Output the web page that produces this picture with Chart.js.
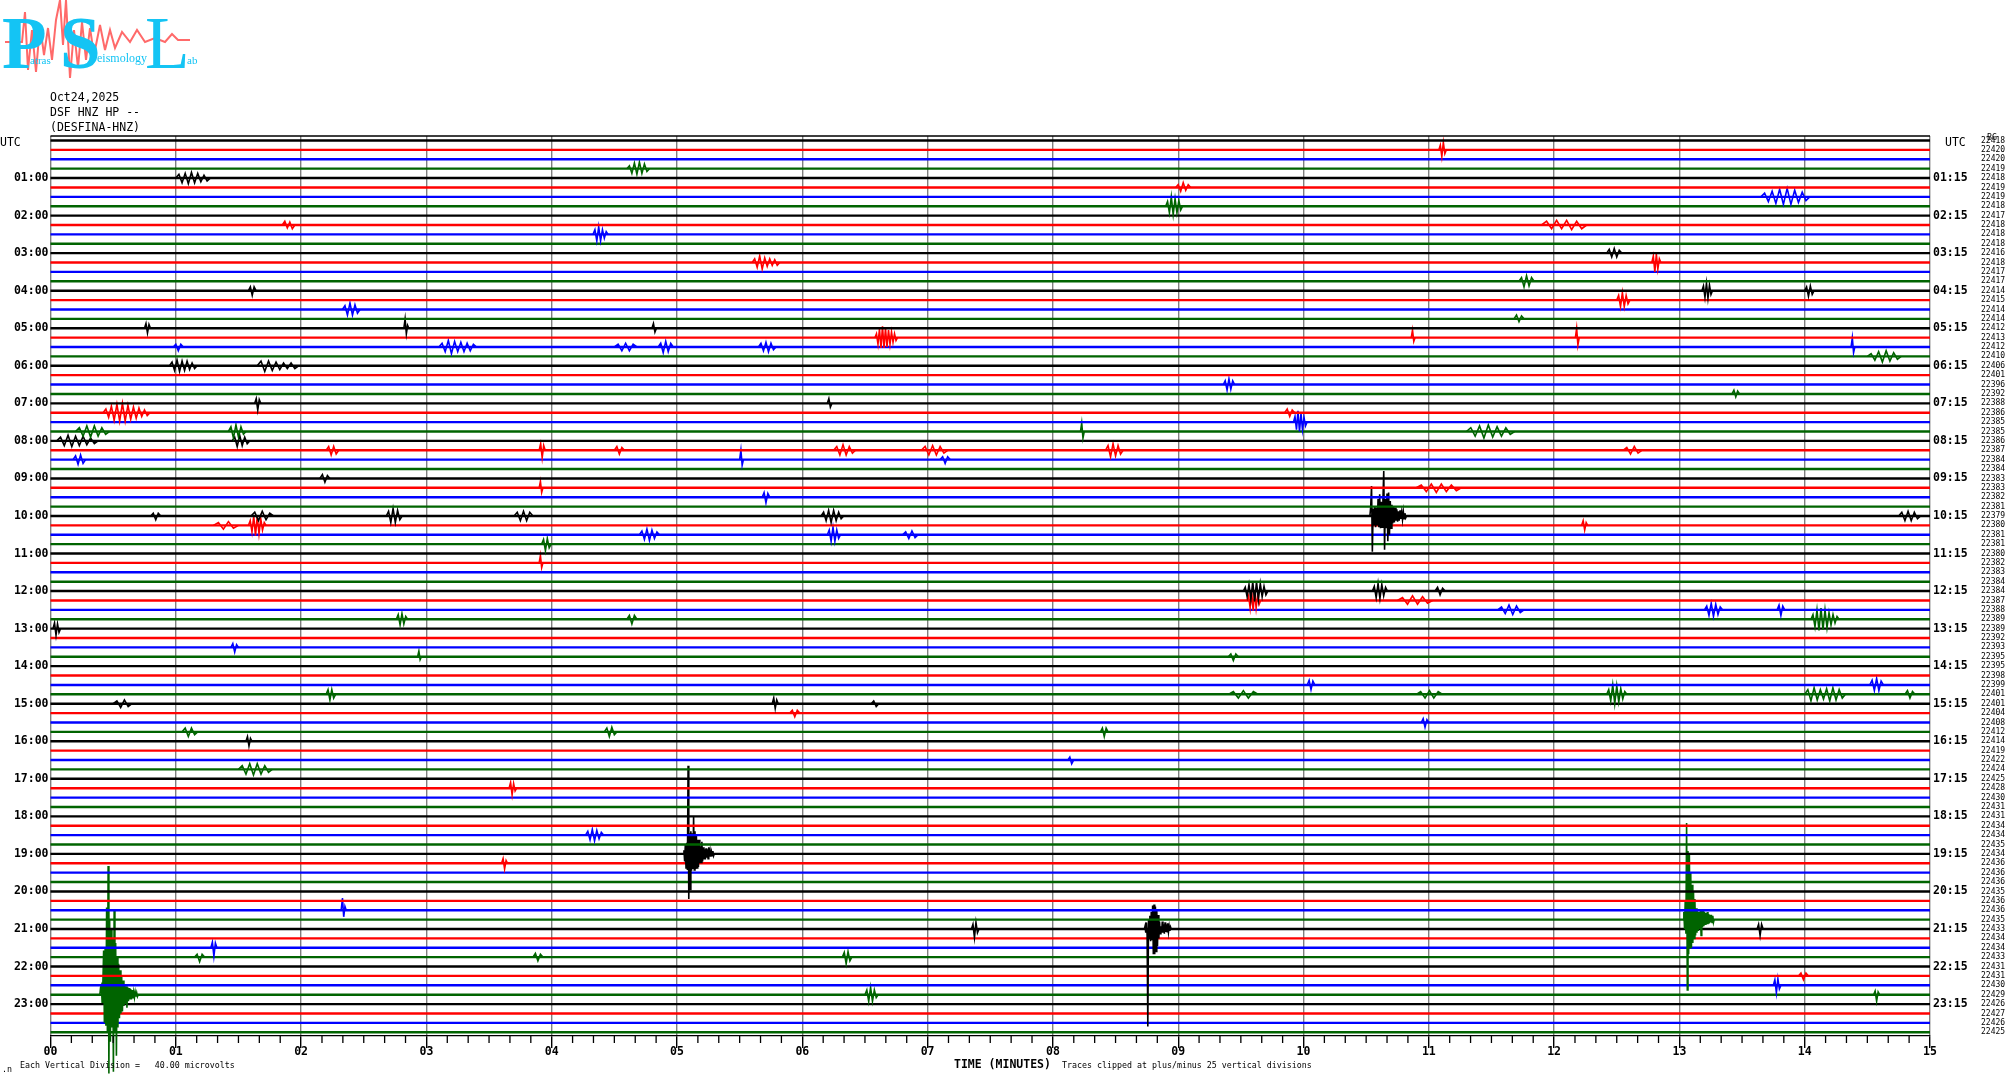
<!DOCTYPE html>
<html>
<head>
<meta charset="utf-8">
<title>DSF HNZ helicorder</title>
<script src="https://cdn.jsdelivr.net/npm/chart.js@4/dist/chart.umd.min.js"></script>
<style>
  html, body { margin: 0; padding: 0; background: #fff; }
  #wrap { position: relative; width: 2010px; height: 1080px; overflow: hidden; }
  #graf { position: absolute; left: 0; top: 0; }
  .t { position: absolute; font-family: "DejaVu Sans Mono", monospace; color: #000; white-space: pre; line-height: 1; }
  .b { font-weight: bold; font-size: 11.5px; }
  .s { font-size: 8.3px; }
  .logo { position: absolute; font-family: "Liberation Serif", serif; color: #14c4f4; line-height: 1; }
</style>
</head>
<body>
<div id="wrap">
  <canvas id="graf" width="2010" height="1080"></canvas>

  <svg style="position:absolute;left:0;top:0" width="205" height="82">
    <polyline fill="none" stroke="#ff6a6a" stroke-width="2"
      points="5,42 22,42 25,12 28,70 32,30 36,72 40,25 44,55 48,28 52,60 56,20 60,0 63,45 66,0 70,78 74,30 78,68 82,22 86,60 90,28 94,55 100,25 105,50 110,30 115,48 122,32 130,42 137,30 145,42 155,38 165,42 172,34 178,40 190,40"/>
  </svg>
  <span class="logo" style="left:2px;top:7px;font-size:73px;font-weight:bold">P</span>
  <span class="logo" style="left:60px;top:7px;font-size:73px;font-weight:bold">S</span>
  <span class="logo" style="left:145px;top:7px;font-size:73px">L</span>
  <span class="logo" style="left:30px;top:55px;font-size:11px">atras</span>
  <span class="logo" style="left:97px;top:52px;font-size:12px">eismology</span>
  <span class="logo" style="left:187px;top:55px;font-size:11px">ab</span>

  <span class="t b" style="left:50px;top:92px;font-weight:normal">Oct24,2025</span>
  <span class="t b" style="left:50px;top:107px;font-weight:normal">DSF HNZ HP --</span>
  <span class="t b" style="left:50px;top:122px;font-weight:normal">(DESFINA-HNZ)</span>
  <span class="t b" style="left:0;top:137px;font-weight:normal">UTC</span>
  <span class="t b" style="left:1945px;top:137px;font-weight:normal">UTC</span>
  <span class="t s" style="left:1987px;top:133px">BG</span>
  <span class="t b" style="left:954px;top:1059px">TIME (MINUTES)</span>
  <span class="t s" style="left:1062px;top:1061px">Traces clipped at plus/minus 25 vertical divisions</span>
  <span class="t s" style="left:20px;top:1061px">Each Vertical Division =   40.00 microvolts</span>
  <span class="t s" style="left:2px;top:1065px">.n</span>
</div>

<script>
// helicorder DSF HNZ - 24 Oct 2025
const colores = ['#000000', '#ff0000', '#0000ff', '#006400'];
const minutos = ['00','01','02','03','04','05','06','07','08','09','10','11','12','13','14','15'];
const horasIzq = ['01:00','02:00','03:00','04:00','05:00','06:00','07:00','08:00','09:00','10:00','11:00','12:00','13:00','14:00','15:00','16:00','17:00','18:00','19:00','20:00','21:00','22:00','23:00'];
const horasDer = ['01:15','02:15','03:15','04:15','05:15','06:15','07:15','08:15','09:15','10:15','11:15','12:15','13:15','14:15','15:15','16:15','17:15','18:15','19:15','20:15','21:15','22:15','23:15'];

// cuenta media de cada traza (columna derecha)
const cuentas = [22418,22420,22420,22419,22418,22419,22419,22418,22417,22418,22418,22418,22416,22418,22417,22417,
  22414,22415,22414,22414,22412,22413,22412,22410,22406,22401,22396,22392,22388,22386,22385,22385,
  22386,22387,22384,22384,22383,22383,22382,22381,22379,22380,22381,22381,22380,22382,22383,22384,
  22384,22387,22388,22389,22389,22392,22393,22395,22395,22398,22399,22401,22401,22404,22408,22412,
  22414,22419,22422,22424,22425,22428,22430,22431,22431,22434,22434,22435,22434,22436,22436,22436,
  22435,22436,22436,22435,22433,22434,22434,22433,22431,22431,22430,22429,22426,22427,22426,22425];

// sismos grandes, deflexion en separaciones de traza (+ arriba)
const sismo0045 = [.8,1,-.8,1.2,4.7,-3,5,-3.3,9.3,-4,13.7,-8.4,8,-5,7,-3.5,6,-8.2,9,-4,5.5,-6.5,4,-3.5,3.3,-2.5,2.6,-2,2,-1.8,1.5,-1.2,1,-1,.9,-1.4,.8,-.7,.7,-.5,.6,-.5,.5,-.4,.3,-.3,.3,-.2,.2,-.2];
const sismo0510 = [.4,-.8,1,-1.5,1.2,-1.7,9.4,-4.8,2.2,-3.8,2.4,-1.8,2.2,-1.6,4,-1.7,2.4,-1.6,2,-1.5,1.5,-1.4,1.5,-1,.8,-.9,1.3,-.8,.7,-.6,.5,-.6,.6,-.4,.5,-.5,.7,-.3,.3,-.3,.2,-.2,.3,-.2];
const sismo0876 = [.3,-.4,.7,-.7,-10.4,1,-1,1.4,-1.3,1.8,-1.2,2.5,-2.7,2.6,-2.7,2.4,-2.4,2,-1.8,1.5,-1,.8,-.5,.3,-.4,.8,-.4,.5,-.5,.7,-.3,.5,-.3,.6,-.3,.3,-.2,.2];
const sismo1065 = [1,3.2,-3.8,.8,-1,1,-1.2,.9,-1,1.8,-1.2,2.3,-1.3,1.5,-1.2,1.7,4.8,-3.6,1.8,-1.3,2.4,-2.7,2.5,-2,1.6,-1.3,1.2,-.8,1,-.7,.9,-.5,.7,-.6,.5,-.5,.6,-.3,.4,-.4,.5,-.3,.3,-.2];
const sismo1306 = [.8,-1,2,-1.5,10.3,-7.5,7.3,-3.7,7,-3,5,-3,3.7,-2.5,3,-2,2.2,-1.7,1.2,-1.4,.9,-1.2,.8,-1,1.1,-1.7,1,-.8,.9,-.7,.8,-.5,.7,-.5,.8,-.5,.6,-.4,.5,-.3,.5,-.3,.4,-.3];

// [traza, minuto inicial, paso en minutos, deflexiones]
const eventos = [
  [91,.394,.006,sismo0045],[76,5.05,.0055,sismo0510],[84,8.73,.0055,sismo0876],[40,10.53,.0065,sismo1065],[83,13.03,.0055,sismo1306],
  [1,11.08,.012,[.5,-.7,.8,-.4]],
  [3,4.6,.02,[.3,-.5,.6,-.6,.7,-.5,.5,-.3]],
  [4,1.0,.025,[.4,-.5,.5,-.6,.6,-.5,.5,-.4,.3,-.3]],
  [5,8.98,.02,[.3,-.4,.5,-.3,.3]],
  [6,13.65,.03,[.4,-.5,.6,-.7,.8,-.8,.9,-.8,.7,-.6,.5,-.4]],
  [7,8.9,.015,[.5,-.7,1,-.9,.8,-.7,.6,-.4]],
  [9,11.9,.04,[.4,-.4,.5,-.4,.5,-.5,.4,-.4]],
  [9,1.85,.02,[.4,-.3,.3,-.4]],
  [10,4.33,.015,[.5,-.7,.8,-.7,.5,-.4,.3]],
  [12,12.42,.02,[.4,-.4,.5,-.4,.3]],
  [13,5.6,.02,[.4,-.5,.7,-.7,.5,-.4,.4,-.3,.3,-.3]],
  [13,12.78,.012,[.7,-1,.9,-.7,.4]],
  [15,11.72,.02,[.4,-.6,.6,-.5,.4]],
  [16,13.18,.012,[.5,-.7,.8,-.8,.6,-.4]],
  [16,14.0,.015,[.4,-.6,.5,-.4]],
  [16,1.58,.015,[.4,-.5,.4]],
  [17,12.5,.015,[.5,-.7,.8,-.7,.5,-.4]],
  [18,2.33,.02,[.4,-.6,.7,-.6,.5,-.4]],
  [19,11.68,.02,[.4,-.3,.3]],
  [20,.75,.012,[.5,-.5,.4]],
  [20,2.82,.01,[1,-.6,.3]],
  [20,4.8,.012,[.5,-.4]],
  [21,6.58,.012,[.4,-.7,.9,-1.1,1.2,-1.1,1,-1,.8,-.7,.6,-.5,.4,-.3]],
  [21,10.86,.01,[.8,-.4]],
  [21,12.17,.01,[1,-.8]],
  [22,3.1,.025,[.4,-.5,.7,-.7,.6,-.5,.5,-.5,.4,-.4,.3]],
  [22,4.5,.03,[.3,-.4,.4,-.4,.3]],
  [22,4.85,.02,[.4,-.6,.6,-.5,.4]],
  [22,5.65,.02,[.4,-.4,.5,-.5,.4,-.3]],
  [22,.98,.02,[.3,-.4,.3]],
  [22,14.37,.01,[1,-.6]],
  [23,14.5,.03,[.3,-.4,.5,-.6,.6,-.5,.4,-.3]],
  [24,.95,.02,[.4,-.5,.6,-.6,.5,-.5,.5,-.4,.3,-.3]],
  [24,1.65,.03,[.5,-.6,.5,-.5,.4,-.4,.3,-.3,.3,-.3]],
  [26,9.36,.015,[.4,-.6,.6,-.5,.4]],
  [27,13.42,.015,[.4,-.3,.3]],
  [28,1.63,.012,[.5,-.7,.4]],
  [28,6.2,.012,[.5,-.4]],
  [29,.42,.022,[.4,-.5,.7,-.8,.9,-.9,1,-.9,.8,-.7,.6,-.6,.5,-.4,.3,-.3]],
  [29,9.85,.02,[.4,-.4,.3]],
  [30,9.92,.012,[.6,-.8,1.2,-1,.9,-.8,.5,-.4]],
  [31,.2,.03,[.4,-.5,.6,-.6,.6,-.5,.4,-.3]],
  [31,1.42,.02,[.5,-.7,.7,-.6,.5,-.3]],
  [31,11.3,.035,[.4,-.5,.6,-.7,.7,-.6,.5,-.5,.4,-.3]],
  [31,8.22,.01,[.9,-.7]],
  [32,.05,.03,[.4,-.5,.6,-.6,.5,-.5,.5,-.4,.3,-.3]],
  [32,1.45,.02,[.4,-.6,.6,-.5,.4,-.3]],
  [33,2.2,.02,[.4,-.5,.4,-.4]],
  [33,3.9,.012,[.7,-.8,.5]],
  [33,4.5,.02,[.4,-.4,.3]],
  [33,6.25,.025,[.4,-.5,.6,-.5,.4,-.3]],
  [33,6.95,.03,[.4,-.5,.5,-.5,.4,-.3]],
  [33,8.42,.02,[.5,-.7,.7,-.6,.5,-.4]],
  [33,12.55,.03,[.3,-.4,.4,-.3]],
  [34,.18,.02,[.4,-.5,.5,-.4]],
  [34,5.5,.01,[1,-.6]],
  [34,7.1,.02,[.3,-.4,.3]],
  [36,2.15,.02,[.4,-.4,.3]],
  [37,3.9,.01,[.7,-.5]],
  [37,10.9,.04,[.3,-.4,.4,-.5,.4,-.4,.3,-.3]],
  [38,5.68,.015,[.5,-.6,.4]],
  [40,.8,.02,[.3,-.4,.3]],
  [40,1.6,.03,[.4,-.5,.5,-.4,.3]],
  [40,2.68,.018,[.5,-.7,.8,-.7,.6,-.4]],
  [40,3.7,.025,[.4,-.5,.5,-.5,.4]],
  [40,6.15,.02,[.4,-.5,.6,-.7,.6,-.5,.4,-.3]],
  [40,14.75,.025,[.4,-.5,.5,-.5,.4,-.3]],
  [41,1.3,.04,[.3,-.4,.4,-.3]],
  [41,1.58,.014,[.5,-.7,1,-1.1,1,-.9,.7,-.5,.3]],
  [41,12.22,.012,[.5,-.5,.3]],
  [42,4.7,.02,[.4,-.5,.6,-.6,.5,-.4,.3]],
  [42,6.2,.015,[.5,-.7,.8,-.7,.5,-.4]],
  [42,6.8,.025,[.3,-.4,.4,-.3]],
  [43,3.92,.015,[.5,-.7,.6,-.4]],
  [45,3.9,.01,[.8,-.5]],
  [48,9.52,.015,[.4,-.6,.7,-.9,1,-1.1,1,-.9,.8,-.6,.5,-.4]],
  [48,10.55,.015,[.5,-.7,.8,-.8,.7,-.5,.4]],
  [48,11.05,.02,[.4,-.4,.3]],
  [49,9.55,.012,[.5,-.8,1,-1.1,1,-.8,.6,-.4]],
  [49,10.75,.04,[.3,-.4,.5,-.4,.4,-.3]],
  [50,11.55,.03,[.3,-.4,.5,-.5,.4,-.3]],
  [50,13.2,.018,[.4,-.6,.7,-.7,.6,-.5,.3]],
  [50,13.78,.015,[.5,-.6,.4]],
  [51,2.76,.015,[.5,-.6,.6,-.5,.3]],
  [51,4.6,.02,[.4,-.5,.4]],
  [51,14.05,.016,[.5,-.8,1,-1.2,1.2,-1.1,1,-.9,.7,-.6,.5,-.4,.3]],
  [52,.02,.012,[.6,-.7,.5,-.4]],
  [54,1.44,.015,[.4,-.5,.3]],
  [55,9.4,.02,[.3,-.4,.3]],
  [55,2.93,.01,[.6,-.3]],
  [58,10.03,.015,[.5,-.5,.4]],
  [58,14.52,.018,[.5,-.6,.7,-.6,.4]],
  [59,2.2,.015,[.5,-.6,.5,-.4]],
  [59,9.4,.04,[.3,-.4,.4,-.4,.3]],
  [59,10.9,.035,[.3,-.4,.4,-.4,.3]],
  [59,12.42,.016,[.5,-.7,1,-1,.9,-.8,.6,-.5,.3]],
  [59,14.0,.025,[.5,-.7,.7,-.6,.5,-.5,.6,-.7,.7,-.6,.5,-.4]],
  [59,14.8,.02,[.4,-.4,.3]],
  [60,.5,.03,[.3,-.4,.4,-.3]],
  [60,5.76,.012,[.6,-.5,.4]],
  [60,6.55,.02,[.3,-.3]],
  [61,5.9,.02,[.3,-.4,.3]],
  [62,10.94,.015,[.4,-.5,.3]],
  [63,1.05,.025,[.4,-.5,.4,-.3]],
  [63,4.42,.02,[.4,-.5,.5,-.3]],
  [63,8.38,.015,[.4,-.5,.4]],
  [64,1.56,.012,[.5,-.5,.3]],
  [66,8.12,.015,[.3,-.4]],
  [67,1.5,.03,[.4,-.5,.6,-.6,.6,-.5,.4,-.3]],
  [69,3.66,.012,[.6,-.7,.5,-.3]],
  [74,4.27,.018,[.4,-.5,.6,-.6,.5,-.4,.3]],
  [77,3.6,.012,[.5,-.6,.3]],
  [82,2.32,.01,[1.3,-.7,.4]],
  [84,7.35,.012,[.5,-.9,.7,-.4]],
  [84,13.62,.012,[.5,-.7,.5]],
  [86,1.28,.012,[.6,-.9,.5]],
  [87,1.15,.02,[.3,-.5,.3]],
  [87,3.85,.02,[.4,-.4,.3]],
  [87,6.32,.015,[.5,-.7,.6,-.4]],
  [89,13.95,.02,[.3,-.4,.3]],
  [90,13.75,.012,[.6,-.8,.7,-.4]],
  [91,6.5,.015,[.5,-.7,.8,-.7,.5,-.3]],
  [91,14.55,.012,[.4,-.7,.3]]
];

const NUM_TRAZAS = cuentas.length;
const datasets = [];

for (let r = 0; r < NUM_TRAZAS; r++) {
  const color = colores[r % 4];

  // linea base de la traza
  datasets.push({
    data: [{ x: 0, y: r }, { x: 15, y: r }],
    borderColor: color, borderWidth: 2.4, pointRadius: 0, clip: false
  });

  const puntos = [];
  eventos.filter(e => e[0] === r).sort((a, b) => a[1] - b[1]).forEach(e => {
    const [, inicio, paso, vals] = e;
    puntos.push({ x: inicio, y: r });
    vals.forEach((v, i) => puntos.push({ x: inicio + (i + 1) * paso, y: r - v }));
    const fin = inicio + (vals.length + 1) * paso;
    puntos.push({ x: fin, y: r });
    puntos.push({ x: fin, y: NaN });
  });
  if (puntos.length) {
    datasets.push({
      data: puntos,
      borderColor: color, borderWidth: 1.6, pointRadius: 0, clip: false, spanGaps: false
    });
  }
}

const fuenteHora = { family: '"DejaVu Sans Mono", monospace', size: 11.5, weight: 'bold' };
const marcasHora = () => horasIzq.map((_, i) => ({ value: (i + 1) * 4 }));

// borde superior y marcas menores cada 10 segundos
const marcoPlugin = {
  id: 'marco',
  afterDraw(chart) {
    const { ctx, chartArea, scales } = chart;
    ctx.save();
    ctx.strokeStyle = '#000';
    ctx.lineWidth = 1.3;
    ctx.beginPath();
    ctx.moveTo(chartArea.left, chartArea.top);
    ctx.lineTo(chartArea.right, chartArea.top);
    for (let m = 0; m < 15; m++) {
      for (let k = 1; k < 6; k++) {
        const px = scales.x.getPixelForValue(m + k / 6);
        ctx.moveTo(px, chartArea.bottom);
        ctx.lineTo(px, chartArea.bottom + 7);
      }
    }
    ctx.stroke();
    ctx.restore();
  }
};

new Chart(document.getElementById('graf'), {
  type: 'line',
  data: { datasets },
  plugins: [marcoPlugin],
  options: {
    responsive: false,
    animation: false,
    parsing: false,
    devicePixelRatio: 1,
    layout: { padding: { top: 136 } },
    plugins: { legend: { display: false }, tooltip: { enabled: false } },
    scales: {
      x: {
        type: 'linear', min: 0, max: 15,
        afterFit: s => { s.height = 44; },
        border: { color: '#000', width: 1.3 },
        grid: { color: '#808080', lineWidth: 1.4, tickColor: '#000', tickLength: 12 },
        ticks: {
          stepSize: 1, padding: -3, maxRotation: 0, color: '#000', font: fuenteHora,
          callback: v => minutos[v]
        }
      },
      y: {
        type: 'linear', position: 'left', reverse: true, min: -0.48, max: 95.4,
        afterFit: s => { s.width = 50.5; },
        afterBuildTicks: s => { s.ticks = marcasHora(); },
        border: { display: false },
        grid: { display: false, drawTicks: false },
        ticks: {
          autoSkip: false, padding: 2, color: '#000', font: fuenteHora,
          callback: (v, i) => horasIzq[i]
        }
      },
      yHora: {
        type: 'linear', position: 'right', reverse: true, min: -0.48, max: 95.4,
        afterFit: s => { s.width = 50; },
        afterBuildTicks: s => { s.ticks = marcasHora(); },
        border: { display: false },
        grid: { display: false, drawTicks: false },
        ticks: {
          autoSkip: false, padding: 3, color: '#000', font: fuenteHora,
          callback: (v, i) => horasDer[i]
        }
      },
      yCuenta: {
        type: 'linear', position: 'right', reverse: true, min: -0.48, max: 95.4,
        afterFit: s => { s.width = 30; },
        afterBuildTicks: s => { s.ticks = cuentas.map((_, i) => ({ value: i })); },
        border: { display: false },
        grid: { display: false, drawTicks: false },
        ticks: {
          autoSkip: false, padding: 1, color: '#000',
          font: { family: '"DejaVu Sans Mono", monospace', size: 8 },
          callback: (v, i) => String(cuentas[i])
        }
      }
    }
  }
});
</script>
</body>
</html>
